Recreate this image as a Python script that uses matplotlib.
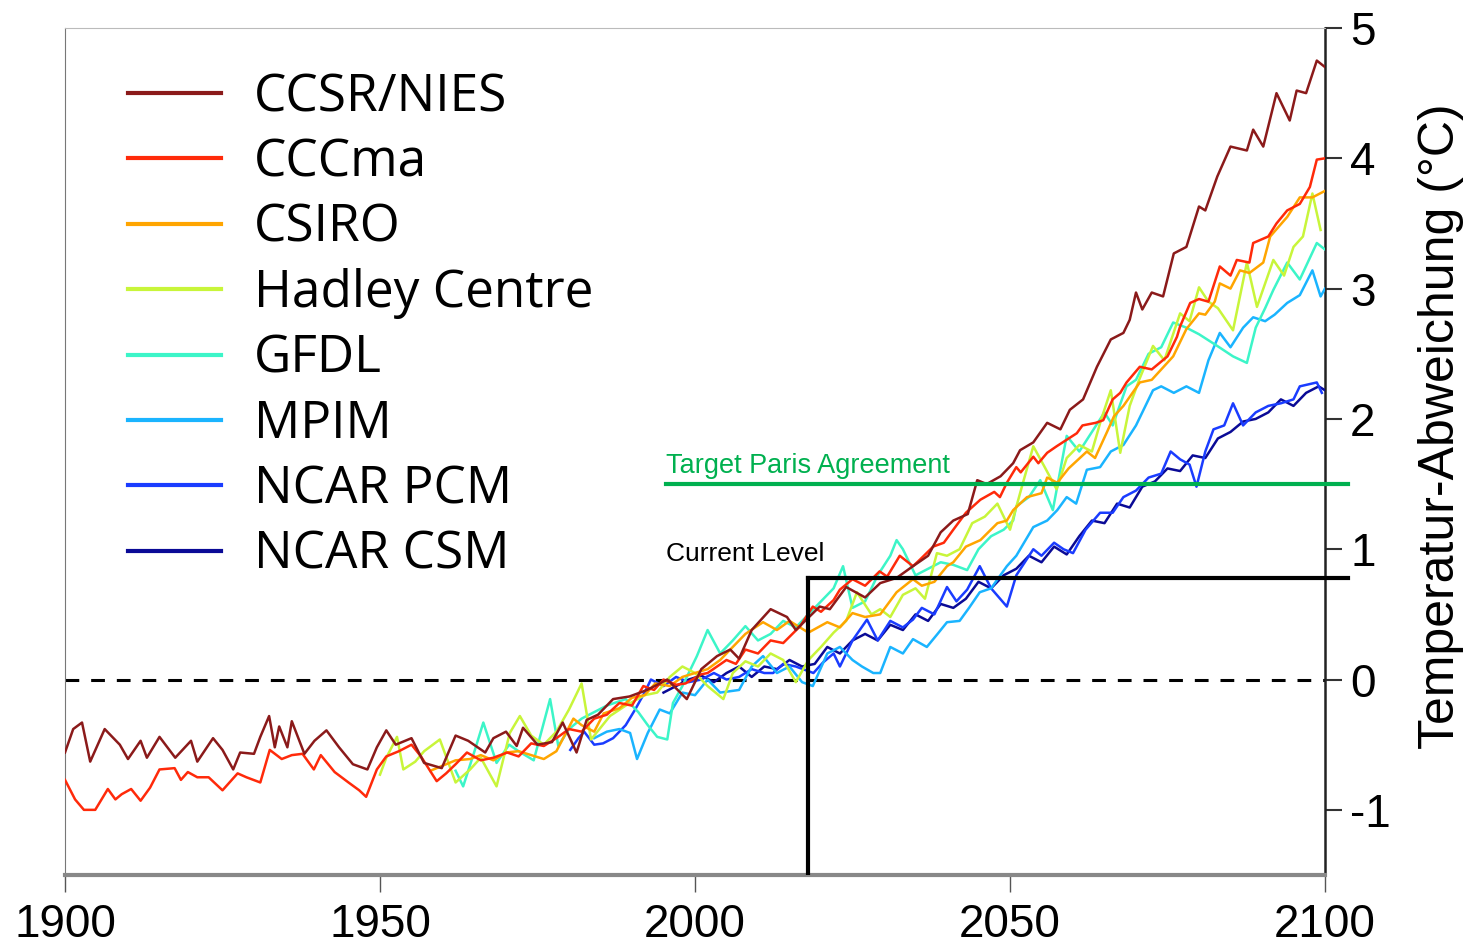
import matplotlib
matplotlib.use("Agg")
import matplotlib.pyplot as plt
from matplotlib.lines import Line2D

plt.rcParams['axes.unicode_minus'] = False

# ---- data ----
names = ["CCSR/NIES", "CCCma", "CSIRO", "Hadley Centre", "GFDL", "MPIM", "NCAR PCM", "NCAR CSM"]
colors = ["#8b1a1a", "#ff2a0a", "#ffa500", "#c8f53a", "#3cf5c8", "#1ab4ff", "#1a3cff", "#0a0a96"]

ccsr_yr = [1900, 1901.3, 1902.7, 1904, 1906.3, 1908.7, 1910, 1912, 1913, 1915, 1917.5, 1920, 1921, 1923.5, 1925,
           1926.7, 1927.8, 1930, 1931, 1932.4, 1933.3, 1934, 1935.3, 1936, 1938, 1939.6, 1941.5, 1943.5, 1945.7,
           1948, 1949.5, 1951, 1952.5, 1955, 1957, 1959.8, 1962, 1964, 1966.7, 1968, 1970, 1971.7, 1972.7, 1975,
           1977.3, 1979, 1981.2, 1982.8, 1984.6, 1987, 1989.6, 1992.4, 1995.6, 1998.7, 2001, 2003.5, 2005.6, 2007,
           2009, 2012, 2014.6, 2016, 2019.8, 2021.4, 2024, 2027, 2029.4, 2032, 2034.6, 2037, 2039, 2041, 2043.3,
           2044.8, 2046.3, 2048.5, 2050.5, 2051.6, 2053.7, 2055.9, 2058, 2059.5, 2061.6, 2063.8, 2066, 2068, 2069,
           2070, 2071, 2072.5, 2074.3, 2076, 2078, 2080, 2081, 2082.9, 2085, 2087.6, 2088.6, 2090.2, 2092.3,
           2094.4, 2095.5, 2097, 2098.7, 2100]
ccsr_val = [-0.56, -0.38, -0.33, -0.63, -0.38, -0.50, -0.61, -0.47, -0.60, -0.44, -0.60, -0.47, -0.63, -0.45, -0.54,
            -0.69, -0.56, -0.57, -0.44, -0.28, -0.52, -0.36, -0.52, -0.32, -0.57, -0.47, -0.39, -0.52, -0.65,
            -0.69, -0.52, -0.39, -0.50, -0.45, -0.64, -0.68, -0.43, -0.47, -0.56, -0.45, -0.40, -0.51, -0.37, -0.50,
            -0.48, -0.33, -0.56, -0.31, -0.27, -0.15, -0.13, -0.08, 0.00, -0.15, 0.08, 0.18, 0.23, 0.16,
            0.38, 0.54, 0.48, 0.38, 0.56, 0.54, 0.71, 0.63, 0.74, 0.78, 0.87, 0.95, 1.13, 1.22, 1.27,
            1.53, 1.50, 1.56, 1.66, 1.76, 1.82, 1.97, 1.92, 2.07, 2.15, 2.40, 2.61, 2.66, 2.76,
            2.97, 2.84, 2.97, 2.94, 3.27, 3.32, 3.63, 3.60, 3.86, 4.09, 4.06, 4.22, 4.09, 4.50,
            4.29, 4.52, 4.50, 4.75, 4.70]

cccma_yr = [1900, 1901.6, 1903, 1904.8, 1906.8, 1908, 1909, 1910.5, 1912, 1913.5, 1915, 1917.4, 1918.4, 1919.5,
            1921, 1922.8, 1925, 1927.4, 1928.8, 1931, 1932.5, 1934.4, 1936, 1937.7, 1939.5, 1940.6, 1942.8, 1945,
            1946.7, 1947.8, 1949.5, 1951, 1953, 1955, 1956.5, 1959, 1960.5, 1962, 1963.8, 1966, 1968, 1970.2, 1972,
            1974, 1976, 1978, 1980, 1982, 1984, 1986, 1988, 1990, 1991.8, 1993.5, 1995, 1997, 1998.5, 2001, 2002,
            2005, 2006.5, 2008, 2010, 2012, 2014, 2016.7, 2018.7, 2020, 2022, 2023, 2025, 2027, 2029.3, 2030.5,
            2032.5, 2034.6, 2035.7, 2037.8, 2039.5, 2041, 2043, 2045.3, 2047.5, 2048.4, 2049.5, 2051, 2051.7,
            2053.7, 2054.5, 2055.9, 2057.4, 2059, 2060.6, 2061.5, 2063.6, 2064.8, 2066.3, 2067.5, 2068.5, 2070.6,
            2072.5, 2075, 2076.5, 2077, 2078.6, 2080, 2081.5, 2083.3, 2085, 2086, 2088, 2088.6, 2091, 2092.3,
            2094, 2096, 2097.6, 2098.7, 2100]
cccma_val = [-0.77, -0.92, -1.00, -1.00, -0.84, -0.92, -0.88, -0.84, -0.93, -0.83, -0.69, -0.68, -0.77, -0.71,
             -0.75, -0.75, -0.85, -0.72, -0.75, -0.79, -0.54, -0.61, -0.58, -0.57, -0.69, -0.58, -0.71, -0.79,
             -0.85, -0.90, -0.69, -0.59, -0.55, -0.50, -0.59, -0.78, -0.72, -0.65, -0.56, -0.62, -0.60, -0.56, -0.59,
             -0.49, -0.51, -0.45, -0.38, -0.40, -0.30, -0.27, -0.18, -0.20, -0.05, -0.08, 0.00, -0.04, -0.03, 0.04,
             0.05, 0.15, 0.12, 0.23, 0.20, 0.30, 0.28, 0.41, 0.56, 0.52, 0.61, 0.69, 0.77, 0.72, 0.83, 0.79,
             0.95, 0.87, 0.92, 1.02, 1.05, 1.15, 1.28, 1.38, 1.44, 1.40, 1.51, 1.63, 1.59,
             1.71, 1.66, 1.74, 1.79, 1.84, 1.89, 1.95, 1.97, 1.99, 2.15, 2.20, 2.28, 2.40,
             2.38, 2.48, 2.63, 2.71, 2.89, 2.92, 2.90, 3.17, 3.10, 3.22, 3.20, 3.35, 3.40, 3.50,
             3.60, 3.65, 3.78, 3.99, 4.00]

csiro_yr = [1958, 1960, 1962, 1964.3, 1966, 1968, 1970, 1972, 1974, 1976, 1978, 1980.7, 1982, 1984, 1985.5, 1988,
            1990, 1992, 1993.7, 1996, 1998, 2000, 2002, 2004, 2006, 2008, 2010.8, 2013, 2015, 2018, 2021, 2023,
            2025, 2027, 2029.4, 2032, 2034.6, 2036, 2038, 2040, 2041, 2043, 2045.3, 2048, 2049.5, 2050.5, 2052.7,
            2055, 2055.9, 2057.5, 2059.3, 2062.2, 2063.5, 2065.4, 2066.5, 2068, 2070.6, 2072.5, 2075.9, 2078,
            2080, 2081, 2082.5, 2083.3, 2085, 2086.5, 2088, 2090.2, 2091.3, 2094, 2096, 2098, 2100]
csiro_val = [-0.70, -0.66, -0.62, -0.61, -0.58, -0.62, -0.56, -0.55, -0.58, -0.61, -0.55, -0.30, -0.35, -0.40,
             -0.26, -0.22, -0.14, -0.12, -0.03, -0.05, 0.02, 0.05, 0.08, 0.15, 0.25, 0.35, 0.44, 0.38, 0.45, 0.36,
             0.44, 0.40, 0.51, 0.48, 0.50, 0.67, 0.77, 0.72, 0.75, 0.87, 0.90, 1.02, 1.07, 1.20, 1.22, 1.30, 1.40,
             1.43, 1.55, 1.51, 1.62, 1.75, 1.70, 1.90, 2.02, 2.10, 2.28, 2.30, 2.48, 2.69,
             2.81, 2.80, 2.90, 3.04, 3.00, 3.14, 3.12, 3.20, 3.40, 3.55, 3.70, 3.70, 3.75]

hadley_yr = [1950, 1951, 1952.7, 1953.7, 1955.6, 1957, 1959.5, 1962, 1964.3, 1966, 1968.5, 1970.6, 1972.2, 1974,
             1976, 1978, 1980, 1982, 1983.5, 1986.5, 1989, 1992, 1994, 1996, 1998, 2000, 2002, 2004.5, 2006, 2008,
             2010, 2012, 2014, 2016, 2018, 2020, 2022, 2024, 2025.7, 2028, 2029.4, 2031, 2033, 2035, 2036.5,
             2038.4, 2040, 2042, 2044, 2046, 2048, 2050, 2052, 2053.7, 2055.4, 2057.4, 2059, 2061, 2063, 2064.5,
             2066, 2067.5, 2069, 2070.5, 2072.7, 2074.5, 2077, 2078.5, 2080, 2081.5, 2083, 2085.4, 2087.6, 2089.2,
             2091.8, 2093.5, 2095, 2096.5, 2098, 2099.3]
hadley_val = [-0.73, -0.60, -0.44, -0.69, -0.63, -0.55, -0.46, -0.79, -0.69, -0.60, -0.82, -0.41, -0.28, -0.43,
              -0.50, -0.40, -0.23, -0.03, -0.46, -0.28, -0.20, -0.12, -0.10, 0.02, 0.10, 0.05, -0.05, -0.15, 0.05,
              0.14, 0.10, 0.20, 0.15, -0.02, 0.15, 0.25, 0.36, 0.45, 0.67, 0.50, 0.54, 0.48, 0.65, 0.70, 0.62,
              0.97, 0.95, 1.00, 1.20, 1.25, 1.35, 1.15, 1.50, 1.79, 1.64, 1.46, 1.70, 1.80, 1.75, 2.00,
              2.22, 1.74, 2.10, 2.30, 2.56, 2.45, 2.81, 2.75, 3.01, 2.90, 2.85, 2.68, 3.20, 2.86,
              3.22, 3.10, 3.32, 3.40, 3.73, 3.45]

gfdl_yr = [1962, 1963.2, 1965, 1966.4, 1968.5, 1970.5, 1972, 1974.4, 1977, 1978.3, 1980, 1982, 1984, 1986, 1989,
           1991, 1992.5, 1994, 1995.6, 1996.5, 1998, 2000.3, 2002, 2004, 2006, 2008, 2010, 2012, 2014, 2016, 2018,
           2020, 2022, 2023.5, 2025, 2027, 2029, 2031, 2032, 2033, 2035, 2037, 2039, 2041, 2043.2, 2045, 2047,
           2049, 2050.5, 2051, 2053, 2054.8, 2056.8, 2059, 2061, 2063, 2065, 2066.3, 2068.5, 2070, 2072, 2074,
           2075.9, 2078, 2080, 2082.9, 2085.4, 2087.6, 2089, 2090.5, 2091.8, 2094, 2096, 2098.7, 2100]
gfdl_val = [-0.70, -0.82, -0.55, -0.33, -0.64, -0.50, -0.55, -0.62, -0.15, -0.51, -0.38, -0.30, -0.25, -0.20,
            -0.15, -0.25, -0.35, -0.44, -0.46, -0.18, -0.05, 0.18, 0.38, 0.20, 0.30, 0.41, 0.30, 0.35, 0.45, 0.40,
            0.50, 0.60, 0.70, 0.87, 0.55, 0.60, 0.80, 0.95, 1.07, 1.00, 0.80, 0.85, 0.90, 0.88, 0.84, 1.00, 1.10,
            1.15, 1.22, 1.33, 1.40, 1.53, 1.30, 1.87, 1.75, 1.90, 2.05, 1.95, 2.25, 2.30, 2.50, 2.55,
            2.74, 2.70, 2.65, 2.56, 2.48, 2.43, 2.70, 2.85, 2.99, 3.20, 3.07, 3.35, 3.30]

mpim_yr = [1984, 1986, 1988, 1989.7, 1990.8, 1992.5, 1994.4, 1996, 1998, 2000, 2002, 2004, 2007, 2009, 2010.8,
           2013, 2015, 2017, 2018.7, 2021, 2023, 2025, 2026.5, 2028.3, 2029.4, 2031, 2033, 2034.6, 2036.8, 2038.5,
           2040, 2042, 2043.5, 2045.2, 2047, 2049.5, 2051, 2053.7, 2055.9, 2057.5, 2059, 2060.5, 2062.2, 2064.3,
           2066, 2068, 2070, 2072.7, 2074, 2076, 2078, 2080, 2081.5, 2083.3, 2085, 2087, 2088.6, 2090.5, 2092,
           2094, 2096, 2098, 2099.3, 2100]
mpim_val = [-0.45, -0.40, -0.38, -0.41, -0.61, -0.41, -0.23, -0.26, -0.10, -0.12, 0.00, -0.10, -0.08, 0.10, 0.18,
            0.05, 0.10, -0.02, -0.05, 0.20, 0.25, 0.15, 0.10, 0.05, 0.05, 0.25, 0.20, 0.31, 0.25, 0.35,
            0.44, 0.45, 0.55, 0.67, 0.70, 0.87, 0.95, 1.17, 1.22, 1.30, 1.40, 1.35, 1.61, 1.63,
            1.75, 1.80, 1.95, 2.22, 2.25, 2.20, 2.25, 2.20, 2.45, 2.66, 2.55, 2.70, 2.78, 2.75, 2.80,
            2.89, 2.95, 3.14, 2.94, 3.00]

pcm_yr = [1980.2, 1981.5, 1982.4, 1984, 1985.4, 1987, 1989, 1990.5, 1992, 1993, 1995, 1997, 1999, 2001, 2003,
          2005, 2007, 2009, 2011, 2012.4, 2014, 2016, 2018.8, 2020.3, 2022, 2023, 2025, 2027.3, 2029, 2031, 2033,
          2034.6, 2036, 2038, 2040, 2041.5, 2043.2, 2045.2, 2047, 2049.5, 2051, 2053.7, 2055, 2057, 2058.5, 2060,
          2062, 2064.3, 2066.3, 2068, 2070, 2072, 2074, 2075.5, 2077, 2078.5, 2079.6, 2081, 2082.3, 2084, 2085.4,
          2087, 2089, 2091, 2093, 2095, 2096, 2098.7, 2099.5]
pcm_val = [-0.54, -0.45, -0.40, -0.50, -0.49, -0.45, -0.35, -0.23, -0.10, 0.00, -0.05, 0.02, -0.02, 0.00, 0.05,
           0.00, 0.02, 0.08, 0.05, 0.05, 0.12, 0.10, 0.05, 0.13, 0.20, 0.10, 0.30, 0.46, 0.30, 0.45, 0.40,
           0.46, 0.55, 0.50, 0.71, 0.60, 0.69, 0.87, 0.70, 0.56, 0.80, 1.00, 0.95, 1.05, 1.00, 0.97,
           1.15, 1.28, 1.28, 1.40, 1.45, 1.55, 1.58, 1.75, 1.69, 1.65, 1.48, 1.75, 1.92, 1.95, 2.12,
           1.95, 2.05, 2.10, 2.12, 2.15, 2.25, 2.28, 2.20]

csm_yr = [1995, 1997, 1999, 2001, 2003, 2005, 2007, 2009, 2011, 2013, 2015, 2017, 2019, 2021, 2023, 2025, 2027,
          2029, 2031, 2033, 2035, 2037, 2039, 2041, 2043, 2045, 2047, 2049, 2051, 2053, 2055, 2057, 2059, 2061,
          2063, 2065, 2067, 2069, 2071, 2073, 2075, 2077, 2079, 2081, 2083, 2085, 2087, 2089, 2091, 2093, 2095,
          2097, 2099, 2100]
csm_val = [-0.10, -0.05, 0.00, 0.03, -0.02, 0.05, 0.10, 0.02, 0.10, 0.08, 0.15, 0.10, 0.12, 0.25, 0.20, 0.30, 0.35,
           0.30, 0.42, 0.38, 0.50, 0.45, 0.58, 0.55, 0.62, 0.75, 0.70, 0.80, 0.85, 0.95, 0.90, 1.02, 0.96, 1.10,
           1.22, 1.20, 1.35, 1.32, 1.48, 1.52, 1.62, 1.60, 1.72, 1.70, 1.85, 1.90, 1.98, 2.00, 2.05, 2.15, 2.10,
           2.20, 2.25, 2.22]

years_list = [ccsr_yr, cccma_yr, csiro_yr, hadley_yr, gfdl_yr, mpim_yr, pcm_yr, csm_yr]
vals_list = [ccsr_val, cccma_val, csiro_val, hadley_val, gfdl_val, mpim_val, pcm_val, csm_val]

paris_target = 1.5
paris_start = 1995.4
current_level = 0.78
current_year = 2018
line_end = 2103.7

fig = plt.figure(figsize=(14.68, 9.47), dpi=100)
ax = fig.add_axes([65/1468, 72/947, 1260/1468, 847/947])

# draw last model first so CCSR/NIES lies on top
for i in range(len(names) - 1, -1, -1):
    ax.plot(years_list[i], vals_list[i], color=colors[i], lw=1.8, zorder=3 + (len(names) - i) * 0.01)

ax.axhline(0, color="black", lw=2.2, ls=(0, (4.5, 3.9)), zorder=2)

ax.plot([paris_start, line_end], [paris_target, paris_target], color="#00b04f", lw=3, clip_on=False, zorder=5)
ax.text(paris_start, 1.54, "Target Paris Agreement", color="#00b04f", fontsize=19.5,
        family="Liberation Sans", va="bottom", ha="left")
ax.plot([current_year, line_end], [current_level, current_level], color="black", lw=3, clip_on=False, zorder=5)
ax.plot([current_year, current_year], [-1.5, current_level], color="black", lw=3, zorder=5)
ax.text(paris_start, 0.87, "Current Level", color="black", fontsize=19,
        family="Liberation Sans", va="bottom", ha="left")

ax.set_xlim(1900, 2100)
ax.set_ylim(-1.5, 5)
ax.set_xticks([1900, 1950, 2000, 2050, 2100])
ax.set_yticks([-1, 0, 1, 2, 3, 4, 5])
ax.yaxis.tick_right()
ax.yaxis.set_label_position("right")
ax.tick_params(axis="x", labelsize=33, length=12, width=1, color="#555555", pad=8)
ax.tick_params(axis="y", labelsize=33, length=12, width=1.5, color="#333333", pad=6)
for lab in ax.get_xticklabels() + ax.get_yticklabels():
    lab.set_family("Liberation Sans")
ax.set_ylabel("Temperatur-Abweichung (°C)", fontsize=36, family="Liberation Sans")
ax.yaxis.set_label_coords(1.074, 0.53)

ax.spines["left"].set_color("#777777")
ax.spines["top"].set_color("#bbbbbb")
ax.spines["bottom"].set_color("#888888")
ax.spines["bottom"].set_linewidth(3)
ax.spines["right"].set_color("#222222")
ax.spines["right"].set_linewidth(1.8)

handles = [Line2D([0], [0], color=c, lw=3) for c in colors]
ax.legend(handles, names, loc="upper left", bbox_to_anchor=(0.05, 0.948), frameon=False,
          prop={"family": "Open Sans", "size": 37}, handlelength=1.8, handletextpad=0.65,
          labelspacing=0.28, borderpad=0, borderaxespad=0)

fig.savefig("out.png", dpi=100)
